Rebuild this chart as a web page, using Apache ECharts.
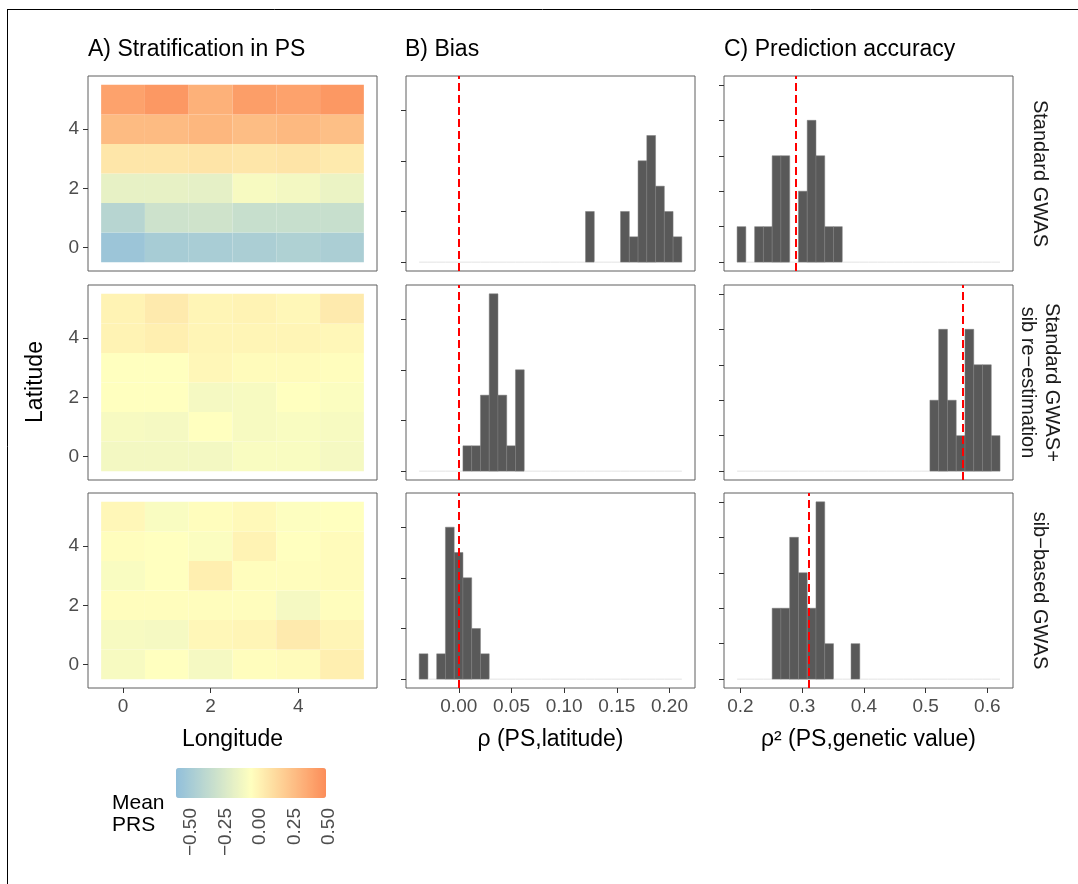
<!DOCTYPE html>
<html>
<head>
<meta charset="utf-8">
<script src="https://cdn.jsdelivr.net/npm/echarts@6/dist/echarts.min.js"></script>
<style>
  html, body { margin: 0; padding: 0; background: #fff; }
  #chart { width: 1078px; height: 884px; }
</style>
</head>
<body>
<div id="chart"></div>
<script>
  const methods = ['Standard GWAS', 'Standard GWAS+\nsib re\u2212estimation', 'sib\u2212based GWAS']
  const lonTicks = [0, 2, 4]
  const latTicks = [0, 2, 4]
  const biasTicks = [0, 0.05, 0.1, 0.15, 0.2]
  const accTicks = [0.2, 0.3, 0.4, 0.5, 0.6]
  const prsTicks = [-0.5, -0.25, 0, 0.25, 0.5]

  // mean PRS per deme, rows = latitude 0..5, columns = longitude 0..5
  const prsStandard = [
    [-0.50, -0.44, -0.43, -0.42, -0.40, -0.42],
    [-0.36, -0.25, -0.24, -0.28, -0.28, -0.28],
    [-0.12, -0.12, -0.13, -0.04, -0.06, -0.10],
    [0.12, 0.12, 0.13, 0.12, 0.13, 0.10],
    [0.33, 0.33, 0.35, 0.32, 0.34, 0.31],
    [0.45, 0.50, 0.38, 0.47, 0.45, 0.50]
  ]
  const prsSibReest = [
    [-0.06, -0.06, -0.06, -0.03, -0.03, -0.05],
    [-0.04, -0.05, 0.00, -0.04, -0.03, -0.04],
    [0.00, 0.00, -0.05, -0.04, 0.00, -0.02],
    [0.00, 0.00, 0.04, 0.02, 0.02, 0.01],
    [0.06, 0.08, 0.05, 0.05, 0.05, 0.04],
    [0.06, 0.10, 0.05, 0.06, 0.04, 0.10]
  ]
  const prsSibBased = [
    [-0.04, 0.00, -0.05, 0.01, 0.02, 0.08],
    [-0.04, -0.05, 0.04, 0.05, 0.10, 0.05],
    [0.01, 0.01, 0.01, 0.01, -0.05, 0.01],
    [-0.03, 0.00, 0.08, 0.01, 0.01, 0.02],
    [0.01, 0.00, -0.02, 0.06, 0.00, 0.02],
    [0.04, -0.03, 0.01, 0.03, -0.01, 0.00]
  ]

  // histograms: 30 bins, counts out of 20 replicates
  const biasBinStart = -0.0376
  const biasBinWidth = 0.00831
  const biasStandard = [0,0,0,0,0,0,0,0,0,0, 0,0,0,0,0,0,0,0,0,2, 0,0,0,2,1,4,5,3,2,1]
  const biasSibReest = [0,0,0,0,0,1,1,3,7,3, 1,4,0,0,0,0,0,0,0,0, 0,0,0,0,0,0,0,0,0,0]
  const biasSibBased = [1,0,1,6,5,4,2,1,0,0, 0,0,0,0,0,0,0,0,0,0, 0,0,0,0,0,0,0,0,0,0]
  const biasMeans = [0, 0, 0]

  const accBinStart = 0.1946
  const accBinWidth = 0.0142
  const accStandard = [1,0,1,1,3,3,0,2,4,3, 1,1,0,0,0,0,0,0,0,0, 0,0,0,0,0,0,0,0,0,0]
  const accSibReest = [0,0,0,0,0,0,0,0,0,0, 0,0,0,0,0,0,0,0,0,0, 0,0,2,4,2,1,4,3,3,1]
  const accSibBased = [0,0,0,0,2,2,4,3,2,5, 1,0,0,1,0,0,0,0,0,0, 0,0,0,0,0,0,0,0,0,0]
  const accMeans = [0.29, 0.561, 0.308]

  const font = '"Liberation Sans", Arial, sans-serif'
  const colLeft = [88, 406, 724]
  const rowTop = [76, 285, 493]
  const panelW = 289
  const panelH = 195

  const prsData = [prsStandard, prsSibReest, prsSibBased]
  const biasData = [biasStandard, biasSibReest, biasSibBased]
  const accData = [accStandard, accSibReest, accSibBased]

  const myChart = echarts.init(document.getElementById('chart'))

  let grids = []
  let xAxes = []
  let yAxes = []
  let series = []

  function tileItem (params, api) {
    let p0 = api.coord([api.value(0) - 0.5, api.value(1) + 0.5])
    let p1 = api.coord([api.value(0) + 0.5, api.value(1) - 0.5])
    return {
      type: 'rect',
      shape: {x: p0[0], y: p0[1], width: p1[0] - p0[0], height: p1[1] - p0[1]},
      style: {fill: api.visual('color')}
    }
  }

  function barItem (params, api) {
    let lo = api.value(0)
    let hi = api.value(1)
    let n = api.value(2)
    let a = api.coord([lo, n])
    let b = api.coord([hi, 0])
    if (n === 0) {
      return {
        type: 'line',
        shape: {x1: a[0], y1: b[1], x2: b[0], y2: b[1]},
        style: {stroke: '#e3e3e3', lineWidth: 1}
      }
    }
    return {
      type: 'rect',
      shape: {x: a[0], y: a[1], width: b[0] - a[0], height: b[1] - a[1]},
      style: {fill: '#595959', stroke: '#7d7d7d', lineWidth: 0.5}
    }
  }

  function bins (counts, start, width) {
    return counts.map((c, i) => [start + i * width, start + (i + 1) * width, c])
  }

  function axisBase (show, values, fmt) {
    return {
      axisLine: {show: false, onZero: false},
      splitLine: {show: false},
      axisTick: {show: show, length: 5, lineStyle: {color: '#333'}, customValues: values},
      axisLabel: {show: show, fontSize: 19, color: '#4d4d4d', fontFamily: font, margin: 9,
        customValues: values, formatter: fmt}
    }
  }

  const xNames = ['Longitude', '\u03c1 (PS,latitude)', '\u03c1\u00b2 (PS,genetic value)']
  const xRanges = [[-0.8, 5.8], [-0.0501, 0.2242], [0.1734, 0.6416]]
  const xTickSets = [lonTicks, biasTicks, accTicks]
  const xFmts = [v => String(v), v => v.toFixed(2), v => v.toFixed(1)]
  const yRanges = [[-0.8, 5.8], [-0.35, 7.35], [-0.25, 5.25]]
  const yTickSets = [latTicks, [0, 2, 4, 6], [0, 1, 2, 3, 4, 5]]

  for (let r = 0; r < 3; r++) {
    for (let c = 0; c < 3; c++) {
      let g = r * 3 + c
      grids.push({
        left: colLeft[c], top: rowTop[r], width: panelW, height: panelH,
        show: true, borderColor: '#5e5e5e', borderWidth: 1, backgroundColor: 'transparent'
      })
      let xa = Object.assign({
        type: 'value', gridIndex: g, min: xRanges[c][0], max: xRanges[c][1]
      }, axisBase(r === 2, xTickSets[c], xFmts[c]))
      if (r === 2) {
        xa.name = xNames[c]
        xa.nameLocation = 'middle'
        xa.nameGap = 40
        xa.nameTextStyle = {fontSize: 23, color: '#000', fontFamily: font}
      }
      xAxes.push(xa)
      let ya = Object.assign({
        type: 'value', gridIndex: g, min: yRanges[c][0], max: yRanges[c][1]
      }, axisBase(true, yTickSets[c], v => String(v)))
      if (c > 0) ya.axisLabel.show = false
      yAxes.push(ya)

      if (c === 0) {
        let cells = []
        prsData[r].forEach((row, lat) => {
          row.forEach((v, lon) => cells.push([lon, lat, v]))
        })
        series.push({type: 'custom', xAxisIndex: g, yAxisIndex: g, renderItem: tileItem,
          data: cells, encode: {x: 0, y: 1}, silent: true})
      } else {
        let isBias = c === 1
        let data = isBias ? bins(biasData[r], biasBinStart, biasBinWidth)
          : bins(accData[r], accBinStart, accBinWidth)
        series.push({
          type: 'custom', xAxisIndex: g, yAxisIndex: g, renderItem: barItem,
          data: data, encode: {x: [0, 1], y: 2}, silent: true,
          markLine: {
            silent: true, symbol: 'none', animation: false,
            label: {show: false},
            lineStyle: {color: '#ff0000', type: [8, 4], width: 2},
            data: [{xAxis: isBias ? biasMeans[r] : accMeans[r]}]
          }
        })
      }
    }
  }

  // colour bar tick labels
  grids.push({left: 185, top: 768, width: 150, height: 30, show: false})
  xAxes.push({
    type: 'value', gridIndex: 9, min: -0.5435, max: 0.5435,
    axisLine: {show: false, onZero: false}, splitLine: {show: false}, axisTick: {show: false},
    axisLabel: {customValues: prsTicks, rotate: 90, fontSize: 19, color: '#4d4d4d', fontFamily: font,
      margin: 10, formatter: v => (v < 0 ? '\u2212' : '') + Math.abs(v).toFixed(2)}
  })
  yAxes.push({type: 'value', gridIndex: 9, min: 0, max: 1, show: false})

  let graphics = [
    {type: 'line', shape: {x1: 7.5, y1: 9.5, x2: 7.5, y2: 884}, style: {stroke: '#000', lineWidth: 1}},
    {type: 'line', shape: {x1: 7, y1: 9.5, x2: 1078, y2: 9.5}, style: {stroke: '#000', lineWidth: 1}},
    {type: 'text', x: 88, y: 50, style: {text: 'A) Stratification in PS', fontSize: 23, fontFamily: font, fill: '#000', textVerticalAlign: 'middle'}},
    {type: 'text', x: 405, y: 50, style: {text: 'B) Bias', fontSize: 23, fontFamily: font, fill: '#000', textVerticalAlign: 'middle'}},
    {type: 'text', x: 724, y: 50, style: {text: 'C) Prediction accuracy', fontSize: 23, fontFamily: font, fill: '#000', textVerticalAlign: 'middle'}},
    {type: 'text', x: 36, y: 382, rotation: Math.PI / 2, style: {text: 'Latitude', fontSize: 23, fontFamily: font, fill: '#000', textAlign: 'center', textVerticalAlign: 'middle'}},
    {type: 'text', x: 112, y: 814, style: {text: 'Mean\nPRS', fontSize: 21, lineHeight: 22, fontFamily: font, fill: '#000', textVerticalAlign: 'middle'}}
  ]
  methods.forEach((m, r) => {
    graphics.push({
      type: 'text', x: 1040, y: rowTop[r] + panelH / 2, rotation: -Math.PI / 2,
      style: {text: m, fontSize: 20, lineHeight: 24, fontFamily: font, fill: '#1a1a1a',
        textAlign: 'center', textVerticalAlign: 'middle'}
    })
  })

  let option = {
    animation: false,
    backgroundColor: '#fff',
    grid: grids,
    xAxis: xAxes,
    yAxis: yAxes,
    visualMap: {
      type: 'continuous', min: -0.553, max: 0.553, dimension: 2, seriesIndex: [0, 3, 6],
      orient: 'horizontal', left: 176, top: 768, itemWidth: 30, itemHeight: 150,
      padding: 0, calculable: false, text: ['', ''], hoverLink: false,
      inRange: {color: ['#91bfdb', '#ffffbf', '#fc8d59']}
    },
    graphic: graphics,
    series: series
  }
  myChart.setOption(option)
</script>
</body>
</html>
